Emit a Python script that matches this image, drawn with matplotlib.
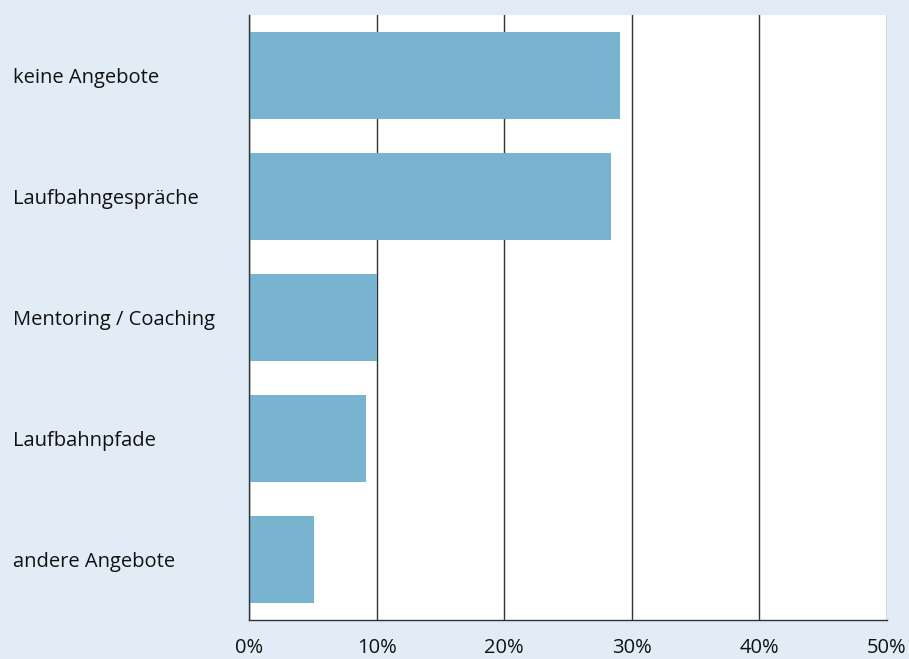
import matplotlib

matplotlib.use("Agg")
import matplotlib.pyplot as plt

categories = [
    "keine Angebote",
    "Laufbahngespräche",
    "Mentoring / Coaching",
    "Laufbahnpfade",
    "andere Angebote",
]
shares = [29.1, 28.4, 10.0, 9.2, 5.1]
x_ticks = [0, 10, 20, 30, 40, 50]
x_tick_labels = [f"{t}%" for t in x_ticks]

BG = "#e1ecf7"
BAR = "#78b4cf"
LINE = "#333333"

W, H = 909, 659
fig = plt.figure(figsize=(W / 100, H / 100), dpi=100, facecolor=BG)
ax = fig.add_axes((249 / W, (H - 620) / H, (887 - 249) / W, (620 - 15) / H))
ax.set_facecolor("white")

ypos = list(range(len(categories)))
ax.barh(ypos, shares, height=0.72, color=BAR, zorder=2)

ax.set_xlim(0, 50)
ax.set_ylim(len(categories) - 0.5, -0.5)
ax.set_xticks(x_ticks, x_tick_labels)
ax.grid(axis="x", color=LINE, linewidth=1.0, zorder=1)
ax.set_yticks(ypos, categories)

for side in ("top", "right"):
    ax.spines[side].set_visible(False)
for side in ("left", "bottom"):
    ax.spines[side].set_color(LINE)
    ax.spines[side].set_linewidth(1.0)

ax.tick_params(axis="y", length=0, pad=(249 - 13) * 0.72)
ax.tick_params(axis="x", length=0, pad=13)
for lbl in ax.get_yticklabels():
    lbl.set_horizontalalignment("left")
for lbl in ax.get_yticklabels() + ax.get_xticklabels():
    lbl.set_fontfamily("Open Sans")
    lbl.set_fontsize(14.5)
    lbl.set_color("#111111")

fig.savefig("out.png", dpi=100, facecolor=BG)
